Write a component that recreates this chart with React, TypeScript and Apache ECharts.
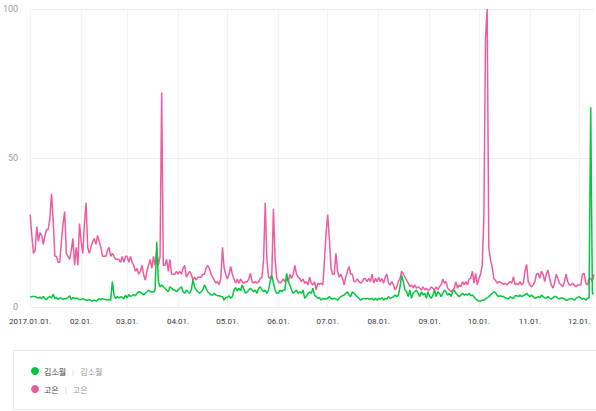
import React, { useEffect, useRef } from "react";
import * as echarts from "echarts";

const year = "2017";
const monthNames = ["01", "02", "03", "04", "05", "06", "07", "08", "09", "10", "11", "12"];
const seriesNames = ["김소월", "고은"];
const yTicks = [0, 50, 100];

const pinkJan = [31, 24, 18, 19, 27, 22, 25, 24, 21, 24, 26, 26, 30, 38, 29, 17, 17, 15, 15, 22, 28, 32, 18, 17, 16, 19, 23, 14, 20, 14, 28];
const pinkFeb = [22, 18, 28, 35, 20, 18, 20, 22, 23, 21, 24, 22, 20, 17, 17, 17, 19, 20, 17, 18, 17, 16, 16, 16, 15, 17, 15, 17];
const pinkMar = [17, 15, 17, 15, 14, 12, 13, 11, 12, 14, 11, 9, 12, 14, 16, 13, 17, 14, 19, 14, 17, 72, 14, 14, 16, 12, 16, 11, 11, 11, 12];
const pinkApr = [11, 12, 11, 13, 14, 10, 11, 12, 11, 9, 10, 9, 10, 10, 10, 11, 11, 13, 14, 13, 11, 10, 9, 8, 8.5, 7.5, 9.6, 20, 13, 11];
const pinkMay = [9.4, 11, 13.6, 11, 9.4, 8, 9.4, 8, 9.4, 8.5, 8, 8.5, 8.5, 9.4, 11.3, 8.5, 8, 8.5, 8, 8.5, 9.6, 10, 16, 35, 16, 10, 9.6, 11, 33, 16, 9.6];
const pinkJun = [8.5, 8, 8.5, 9.4, 8.5, 9.6, 8.5, 11, 9.6, 11, 14, 11, 10, 9.6, 8.5, 9.4, 8, 8.5, 7.4, 10, 8, 7.4, 8.5, 5.7, 8, 7.6, 8, 7.4, 15, 25];
const pinkJul = [31, 23, 13, 11, 11, 18, 12, 10, 11, 9.6, 7.4, 10, 12, 13.6, 11, 11, 8.5, 8.5, 9.4, 8.5, 8, 8.5, 9.6, 9.4, 8.5, 9.6, 8.5, 11, 8, 9.6, 8.5];
const pinkAug = [10, 8.5, 9.6, 8, 10, 11, 8, 7.4, 8.5, 7.4, 5.7, 6.8, 8.5, 9.6, 12, 11, 10, 9, 8, 6.8, 7.4, 6.3, 7.4, 6.3, 6.8, 6.3, 5.7, 6.8, 5.7, 6.3, 5.7];
const pinkSep = [5.7, 6.8, 6.3, 5.7, 6.8, 5.7, 6.8, 7.4, 9.4, 8, 8.5, 6.3, 5.7, 5.1, 5.7, 6.3, 8.5, 6.3, 7.4, 6.8, 8.5, 7.4, 8.5, 7.4, 9.4, 9.6, 12, 8, 11.3, 7.4];
const pinkOct = [9.6, 11, 14, 30, 90, 100, 20, 16, 13.6, 9.6, 9, 8, 8.5, 8.3, 8, 7.6, 8, 7.4, 8, 8.5, 8, 10.2, 7.4, 8, 7.4, 8.5, 7.4, 8, 12, 14.3, 8.5];
const pinkNov = [7.4, 6.8, 7.4, 8.5, 11, 11.3, 9.6, 12, 11, 8.5, 11, 12.4, 9.6, 7.4, 6.3, 8, 11, 9.6, 8, 7.4, 6.8, 8.5, 11, 8.5, 7.4, 7.4, 8, 7.4, 6.8, 7.4];
const pinkDec = [7.4, 7.4, 11, 11.3, 8, 7.4, 9.4, 9.6, 8.5, 11];

const greenJan = [3.2, 3.5, 3.5, 3.5, 3.2, 3, 3.3, 2.8, 3.5, 2.8, 2.5, 3.2, 3.5, 3, 4.3, 2.8, 3.2, 2.5, 3, 3, 2.5, 2.8, 2.8, 3.2, 3.8, 2.5, 3.2, 2.8, 3, 2.8, 2.5];
const greenFeb = [2.5, 2.8, 2.5, 2.3, 2.3, 2.5, 2.2, 2, 2.3, 2, 2.3, 2.8, 2.5, 2.8, 2.6, 2.5, 2.3, 2.5, 2.3, 8.5, 4, 2.8, 3.5, 3, 3.5, 3.2, 2.8, 4];
const greenMar = [3, 4.2, 3.5, 3.8, 4.2, 3.7, 4.6, 5.1, 5, 4.6, 4, 4.6, 5.1, 5.7, 5.1, 5.1, 5, 5.7, 21.9, 8.5, 6.8, 7.4, 6.8, 6.3, 5.7, 5.1, 6.8, 6.3, 5.7, 5.7, 5.1];
const greenApr = [5.7, 6.3, 6.8, 5.1, 4.6, 5.7, 5.1, 4.6, 5.7, 9.1, 6.8, 5.7, 5.1, 4.6, 5.1, 5.7, 7.4, 6.3, 5.1, 4.6, 4, 4, 4.6, 4, 3.8, 3.8, 3.5, 3.5, 2.3, 3.2];
const greenMay = [3.2, 3.8, 2.9, 3.5, 5.7, 6.5, 5.4, 6.3, 5.4, 7.4, 6, 4.6, 5, 5.7, 6.3, 5.7, 5.1, 5.7, 4.6, 6.3, 6.8, 5.7, 5.1, 5.7, 4.6, 5.7, 8.5, 10.6, 8, 5.7, 4.6];
const greenJun = [4.6, 5.7, 5.1, 5.7, 5.7, 11.3, 8.5, 7.4, 5.7, 4.6, 5.1, 5.7, 4.6, 5.1, 4.6, 5.7, 2.9, 3.5, 4.6, 5, 4.6, 6.3, 4, 3.5, 2.9, 3.1, 2.3, 2.9, 2.7, 2.7];
const greenJul = [2.9, 3.5, 2.9, 2.7, 2.9, 2.7, 2.3, 2.9, 3.5, 3.8, 4, 4.6, 5.1, 4, 3.5, 5.1, 4.6, 4, 3.5, 2.9, 2.3, 2.7, 2.9, 2.7, 2.9, 2.7, 2.7, 2.9, 2.3, 2.9, 2.3];
const greenAug = [2.9, 2.7, 3.1, 2.3, 2.9, 2.7, 3.5, 2.9, 3.1, 3.5, 4, 3.5, 4, 6.8, 10.6, 8.5, 5.7, 5.1, 3.5, 5.7, 2.9, 4.6, 5.1, 5.7, 4.6, 3.5, 5.1, 4, 4.6, 2.9, 5.1];
const greenSep = [3.5, 2.9, 4, 5.7, 3.5, 5.1, 4.6, 3.5, 4.6, 5.7, 5.1, 4, 4.6, 3.5, 5.1, 5.7, 4.6, 4, 3.5, 4, 4.6, 4, 4.3, 4, 4.6, 3.8, 4, 3.5, 2.7, 2.3];
const greenOct = [2, 2, 2.3, 2.3, 2.7, 3.1, 3.5, 4, 4.6, 5.1, 4.8, 4, 3.5, 3.8, 3.5, 3.5, 3.1, 2.9, 2.7, 3.5, 3.1, 2.9, 3.8, 3.8, 3.5, 4, 3.5, 3.8, 4, 4.6, 4];
const greenNov = [3.5, 4, 3.5, 2.9, 3.1, 3.5, 3.1, 4, 3.5, 3.1, 2.9, 3.5, 2.9, 2.7, 3.1, 3.5, 3.5, 2.9, 2.7, 3.1, 2.9, 2.7, 2.3, 2.3, 2.7, 2.9, 2.7, 2.3, 2.9, 3.2];
const greenDec = [3.5, 2.9, 2.7, 2.9, 2.3, 2.9, 3, 67, 4.6, 4.3];

const pinkMonths = [pinkJan, pinkFeb, pinkMar, pinkApr, pinkMay, pinkJun, pinkJul, pinkAug, pinkSep, pinkOct, pinkNov, pinkDec];
const greenMonths = [greenJan, greenFeb, greenMar, greenApr, greenMay, greenJun, greenJul, greenAug, greenSep, greenOct, greenNov, greenDec];

const GREEN = "#00c73c";
const PINK = "#ee5c9f";

export default function App() {
  const ref = useRef<HTMLDivElement>(null);
  useEffect(() => {
    if (!ref.current) return;
    const chart = echarts.init(ref.current, undefined, { renderer: "svg" });

    const categories: string[] = [];
    pinkMonths.forEach((m, mi) => {
      m.forEach((_, di) => {
        const dd = String(di + 1).padStart(2, "0");
        categories.push(`${year}.${monthNames[mi]}.${dd}.`);
      });
    });
    const pinkData = pinkMonths.flat();
    const greenData = greenMonths.flat();
    const isMonthStart = (idx: number) => !!categories[idx] && categories[idx].slice(8, 10) === "01";

    chart.setOption({
      animation: false,
      grid: { left: 30, right: 2, top: 9, bottom: 104, containLabel: false },
      legend: {
        orient: "vertical",
        left: 26,
        top: 362,
        icon: "circle",
        itemWidth: 8,
        itemHeight: 8,
        itemGap: 10,
        selectedMode: false,
        data: [seriesNames[0], seriesNames[1]],
        formatter: (name: string) => `{a|${name}}{s||}{b|${name}}`,
        textStyle: {
          rich: {
            a: { color: "#444", fontSize: 8, fontFamily: "Noto Sans CJK KR" },
            s: { color: "#d8d8d8", fontSize: 8, padding: [0, 6, 0, 6] },
            b: { color: "#999", fontSize: 8, fontFamily: "Noto Sans CJK KR" },
          },
        },
      },
      graphic: [
        {
          type: "rect",
          z: -1,
          shape: { x: 13.5, y: 350.5, width: 600, height: 59 },
          style: { fill: "#fff", stroke: "#e6e6e6", lineWidth: 1 },
        },
      ],
      xAxis: {
        type: "category",
        data: categories,
        boundaryGap: false,
        axisLine: { show: false },
        axisTick: { show: false },
        axisLabel: {
          interval: (idx: number) => isMonthStart(idx),
          formatter: (v: string, idx: number) => (idx === 0 ? v : v.slice(5)),
          color: "#333",
          fontSize: 8,
          fontFamily: "Liberation Sans Narrow, Roboto, sans-serif",
          margin: 10,
          hideOverlap: false,
        },
        splitLine: {
          show: true,
          interval: (idx: number) => isMonthStart(idx),
          lineStyle: { color: "#f3f3f3", width: 1 },
        },
      },
      yAxis: {
        type: "value",
        min: yTicks[0],
        max: yTicks[yTicks.length - 1],
        interval: 50,
        axisLine: { show: false },
        axisTick: { show: false },
        axisLabel: { color: "#999", fontSize: 9, margin: 12, fontFamily: "Roboto, sans-serif" },
        splitLine: { lineStyle: { color: "#ececec", width: 1 } },
      },
      series: [
        {
          name: seriesNames[0],
          type: "line",
          data: greenData,
          showSymbol: false,
          symbol: "circle",
          color: GREEN,
          lineStyle: { color: GREEN, width: 1.5 },
          z: 3,
        },
        {
          name: seriesNames[1],
          type: "line",
          data: pinkData,
          showSymbol: false,
          symbol: "circle",
          color: PINK,
          lineStyle: { color: PINK, width: 1.5 },
          z: 2,
        },
      ],
    });
    return () => chart.dispose();
  }, []);
  return (
    <div
      ref={ref}
      style={{ position: "fixed", left: 0, top: 0, width: 596, height: 411, background: "#fff" }}
    />
  );
}
